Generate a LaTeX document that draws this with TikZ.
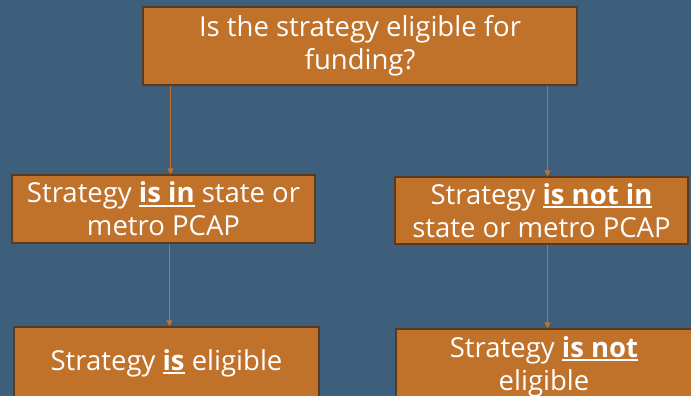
\documentclass[tikz,border=0pt]{standalone}
\usepackage{fontspec}
\setmainfont{Open Sans}
\usetikzlibrary{arrows.meta,calc}

\definecolor{bgblue}{HTML}{3E5F7B}
\definecolor{boxorange}{HTML}{C0712A}
\definecolor{boxedge}{HTML}{5A3A1C}

\newsavebox{\keybox}
\newcommand{\key}[1]{\sbox{\keybox}{\textbf{#1}}%
    \rlap{\rule[-4pt]{\wd\keybox}{2pt}}\usebox{\keybox}}

\tikzset{
    decision/.style={draw=boxedge, line width=1.2pt, fill=boxorange, text=white,
        align=center, inner sep=0pt, font=\fontsize{27.5}{33}\selectfont},
    flow/.style={draw=boxorange, line width=1pt, -{Triangle[width=6pt,length=6pt]}}
}

\begin{document}
\begin{tikzpicture}[x=1pt, y=-1pt]
    % background
    \fill[bgblue] (0,0) rectangle (691,396);
    \useasboundingbox (0,0) rectangle (691,396);

    % Question
    \node[decision, minimum width=434pt, minimum height=78pt] (question) at (360,46)
        {Is the strategy eligible for\\funding?};

    % Middle row
    \node[decision, minimum width=303pt, minimum height=68pt] (isin) at (163.5,209)
        {Strategy \key{is in} state or\\metro PCAP};
    \node[decision, minimum width=293pt, minimum height=67pt] (notin) at (541.5,210.5)
        {Strategy \key{is not in}\\state or metro PCAP};

    % Outcomes
    \node[decision, minimum width=305pt, minimum height=72pt] (yes) at (166.5,363)
        {Strategy \key{is} eligible};
    \node[decision, minimum width=296pt, minimum height=75pt] (no) at (544,366.5)
        {Strategy \key{is not}\\eligible};

    % Connectors
    \draw[flow] ($(question.south -| isin.north)+(7,0)$) -- ($(isin.north)+(7,0)$);
    \draw[flow] ($(question.south -| notin.north)+(6,0)$) -- ($(notin.north)+(6,0)$);
    \draw[flow] ($(isin.south)+(6,0)$) -- ($(yes.north)+(3,0)$);
    \draw[flow] ($(notin.south)+(6,0)$) -- ($(no.north)+(3.5,0)$);
\end{tikzpicture}
\end{document}
